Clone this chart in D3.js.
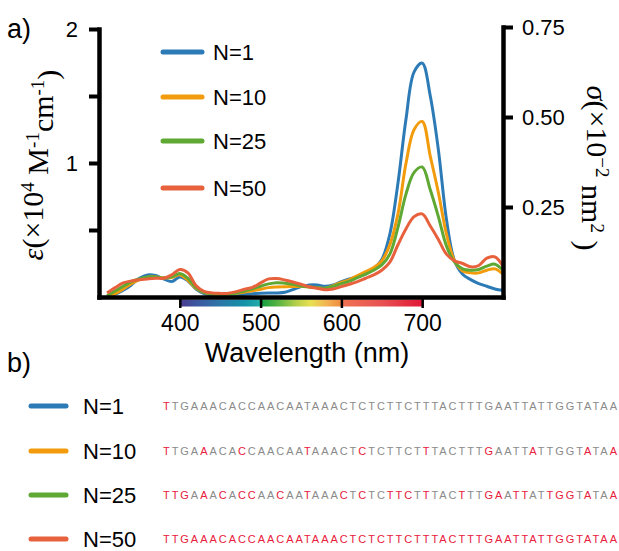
<!DOCTYPE html>
<html><head><meta charset="utf-8">
<script src="https://cdn.jsdelivr.net/npm/d3@7"></script>
<style>body{margin:0;background:#fff} svg{display:block}</style>
</head><body>
<svg id="c" width="619" height="551"></svg>
<script>
// ---------------- data ----------------
const wavelengths = [310,320,330,340,350,360,370,380,390,400,
  410,420,430,440,450,460,470,480,490,500,
  510,520,530,540,550,560,570,580,590,600,
  610,620,630,640,650,660,670,680,690,700,
  710,720,730,740,750,760,770,780,790,800];

const n1 = [0.005,0.02,0.05,0.09,0.14,0.165,0.16,0.135,0.115,0.15,
  0.12,0.06,0.025,0.015,0.012,0.012,0.015,0.02,0.025,0.028,
  0.03,0.03,0.035,0.055,0.077,0.09,0.09,0.08,0.09,0.115,
  0.135,0.15,0.17,0.21,0.28,0.47,0.85,1.33,1.68,1.745,
  1.5,1.1,0.58,0.27,0.17,0.13,0.10,0.08,0.06,0.05];

const n10 = [0.005,0.025,0.06,0.10,0.13,0.148,0.15,0.143,0.145,0.165,
  0.125,0.065,0.033,0.022,0.02,0.02,0.027,0.037,0.047,0.058,
  0.07,0.075,0.077,0.078,0.08,0.075,0.068,0.065,0.085,0.11,
  0.13,0.16,0.19,0.22,0.27,0.39,0.62,1.0,1.25,1.31,
  1.05,0.78,0.47,0.27,0.195,0.18,0.18,0.20,0.21,0.17];

const n25 = [0.01,0.045,0.08,0.115,0.135,0.15,0.15,0.142,0.15,0.175,
  0.14,0.07,0.035,0.025,0.02,0.02,0.03,0.045,0.062,0.08,
  0.098,0.107,0.103,0.095,0.082,0.075,0.07,0.066,0.08,0.1,
  0.118,0.145,0.17,0.2,0.24,0.32,0.52,0.77,0.93,0.97,
  0.80,0.60,0.38,0.26,0.21,0.20,0.205,0.23,0.245,0.20];

const n50 = [0.03,0.07,0.105,0.12,0.128,0.135,0.14,0.14,0.165,0.205,
  0.18,0.085,0.042,0.03,0.027,0.028,0.04,0.058,0.072,0.105,
  0.135,0.138,0.127,0.112,0.095,0.077,0.065,0.055,0.06,0.077,
  0.095,0.115,0.14,0.165,0.20,0.26,0.39,0.51,0.60,0.62,
  0.53,0.43,0.32,0.27,0.25,0.225,0.235,0.29,0.30,0.23];

const seriesNames = ["N=1","N=10","N=25","N=50"];
const seriesColors = ["#2c7bb6","#f29b0c","#5fa833","#e8613d"];
const seriesValues = [n1,n10,n25,n50];

const xTicks = [400,500,600,700];
const yLeftTicks = [0.5,1,1.5,2];
const yLeftLabels = {1:"1",2:"2"};
const yRightTicks = [0.25,0.5,0.75];

const sequence = "TTGAAACACCAACAATAAACTCTCTTCTTTACTTTGAATTATTGGTATAA";
const redPositions = [
  [0],
  [0,4,8,15,21,28,35,40,46,49],
  [0,1,2,4,6,8,9,12,15,19,21,24,25,26,28,32,35,36,38,39,42,43,44,46,49],
  d3.range(50)
];

const spectrumStops = [
  [400,"#4b3a8e"],[420,"#3d55a0"],[450,"#2b77a8"],[480,"#1492a8"],[498,"#22aaa8"],
  [502,"#17a043"],[520,"#52b142"],[545,"#b8d04a"],[562,"#e8e052"],[582,"#f2b252"],
  [598,"#f08f42"],[602,"#f07252"],[650,"#e85252"],[700,"#e01838"]
];

// ---------------- drawing ----------------
const SANS = "'Liberation Sans', Arial, Helvetica, sans-serif";
const SERIF = "'Liberation Serif', 'Times New Roman', serif";
const svg = d3.select("#c");

const x = d3.scaleLinear().domain([300,800]).range([99,503]);
const yL = d3.scaleLinear().domain([0,2]).range([297,29]);
const yR = d3.scaleLinear().domain([0,0.75]).range([297,27]);

// spectrum colour bar
const defs = svg.append("defs");
const grad = defs.append("linearGradient").attr("id","spec").attr("x1","0%").attr("x2","100%");
grad.selectAll("stop").data(spectrumStops).join("stop")
  .attr("offset", d => ((d[0]-400)/300*100)+"%")
  .attr("stop-color", d => d[1]);
svg.append("rect").attr("x",x(400)).attr("y",299.5).attr("width",x(700)-x(400)).attr("height",7)
  .attr("fill","url(#spec)");

// lines
const line = d3.line().x((d,i)=>x(wavelengths[i])).y(d=>yL(d)).curve(d3.curveCatmullRom.alpha(0.5));
seriesValues.forEach((vals,k)=>{
  svg.append("path").attr("d", line(vals)).attr("fill","none")
    .attr("stroke", seriesColors[k]).attr("stroke-width",3).attr("stroke-linejoin","round");
});

function styleAxis(g, tickW){
  g.select(".domain").attr("stroke","#000").attr("stroke-width",4.5).attr("stroke-linecap","square");
  g.selectAll(".tick line").attr("stroke","#000").attr("stroke-width",tickW);
  g.selectAll("text").attr("fill","#000").style("font-family",SANS).style("font-size","22px");
}

// bottom axis
const gx = svg.append("g").attr("transform",`translate(0,${yL(0)})`)
  .call(d3.axisBottom(x).tickValues(xTicks).tickSize(11).tickSizeOuter(0).tickPadding(7));
styleAxis(gx, 2.5);
gx.selectAll("text").style("font-size","23px");

// left axis
const gy = svg.append("g").attr("transform",`translate(${x(300)},0)`)
  .call(d3.axisLeft(yL).tickValues(yLeftTicks).tickFormat(d=>yLeftLabels[d]||"").tickSize(10).tickSizeOuter(0).tickPadding(11));
styleAxis(gy, 4);

// right axis
const gr = svg.append("g").attr("transform",`translate(${x(800)},0)`)
  .call(d3.axisRight(yR).tickValues(yRightTicks).tickFormat(d3.format(".2f")).tickSize(10).tickSizeOuter(0).tickPadding(9));
styleAxis(gr, 4);

// x label
svg.append("text").attr("x",307).attr("y",362).attr("text-anchor","middle")
  .style("font-family",SANS).style("font-size","27px").text("Wavelength (nm)");

// left y label
const tl = svg.append("text").attr("transform","translate(43,165) rotate(-90)")
  .attr("text-anchor","middle").style("font-family",SERIF).style("font-size","30px");
tl.append("tspan").style("font-style","italic").text("ε");
tl.append("tspan").text("(×10");
tl.append("tspan").attr("dy","-0.45em").style("font-size","19px").text("4");
tl.append("tspan").attr("dy","0.45em").text(" M");
tl.append("tspan").attr("dy","-0.45em").style("font-size","19px").text("-1");
tl.append("tspan").attr("dy","0.45em").text("cm");
tl.append("tspan").attr("dy","-0.45em").style("font-size","19px").text("-1");
tl.append("tspan").attr("dy","0.45em").text(")");

// right y label
const tr = svg.append("text").attr("transform","translate(587,168) rotate(90)")
  .attr("text-anchor","middle").style("font-family",SERIF).style("font-size","30px");
tr.append("tspan").style("font-style","italic").text("σ");
tr.append("tspan").text("(×10");
tr.append("tspan").attr("dy","-0.45em").style("font-size","19px").text("−2");
tr.append("tspan").attr("dy","0.45em").text(" nm");
tr.append("tspan").attr("dy","-0.45em").style("font-size","19px").text("2");
tr.append("tspan").attr("dy","0.45em").text(" )");

// panel labels
svg.append("text").attr("x",7).attr("y",38).style("font-family",SANS).style("font-size","27px").text("a)");
svg.append("text").attr("x",7).attr("y",372).style("font-family",SANS).style("font-size","27px").text("b)");

// top legend
const legYs = [52,97,141,188];
seriesNames.forEach((n,k)=>{
  svg.append("line").attr("x1",163).attr("x2",202).attr("y1",legYs[k]).attr("y2",legYs[k])
    .attr("stroke",seriesColors[k]).attr("stroke-width",5).attr("stroke-linecap","round");
  svg.append("text").attr("x",213).attr("y",legYs[k]).attr("dy","0.36em")
    .style("font-family",SANS).style("font-size","22px").text(n);
});

// bottom legend + sequences
const rowYs = [406,451,495,539];
seriesNames.forEach((n,k)=>{
  svg.append("line").attr("x1",31).attr("x2",66).attr("y1",rowYs[k]).attr("y2",rowYs[k])
    .attr("stroke",seriesColors[k]).attr("stroke-width",5).attr("stroke-linecap","round");
  svg.append("text").attr("x",83).attr("y",rowYs[k]).attr("dy","0.35em")
    .style("font-family",SANS).style("font-size","22px").text(n);
  const t = svg.append("text").attr("x",163).attr("y",rowYs[k]+4)
    .attr("textLength",454).attr("lengthAdjust","spacing")
    .style("font-family",SANS).style("font-size","11px");
  const reds = new Set(redPositions[k]);
  sequence.split("").forEach((ch,i)=>{
    t.append("tspan").attr("fill", reds.has(i) ? "#e8203c" : "#8a8a8a").text(ch);
  });
});
</script>
</body></html>
